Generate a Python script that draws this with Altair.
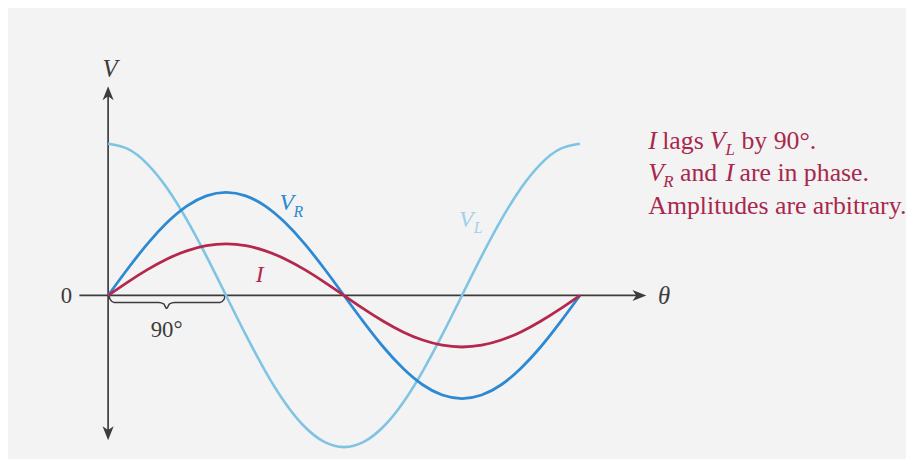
import altair as alt
import pandas as pd

# ---- data (values in arbitrary units, ~pixels above the axis)
theta = [0, 15, 30, 45, 60, 75, 90, 105, 120, 135, 150, 165, 180,
         195, 210, 225, 240, 255, 270, 285, 300, 315, 330, 345, 360]
v_r = [0, 26.9, 52, 73.5, 90.1, 100.5, 104, 100.5, 90.1, 73.5, 52, 26.9, 0,
       -26.9, -52, -73.5, -90.1, -100.5, -104, -100.5, -90.1, -73.5, -52, -26.9, 0]
i_cur = [0, 13.5, 26, 36.8, 45, 50.2, 52, 50.2, 45, 36.8, 26, 13.5, 0,
         -13.5, -26, -36.8, -45, -50.2, -52, -50.2, -45, -36.8, -26, -13.5, 0]
v_l = [153, 147.8, 132.5, 108.2, 76.5, 39.6, 0, -39.6, -76.5, -108.2, -132.5, -147.8, -153,
       -147.8, -132.5, -108.2, -76.5, -39.6, 0, 39.6, 76.5, 108.2, 132.5, 147.8, 153]

brace_x = [0.8, 1.5, 4.5, 38.6, 42.4, 44.6, 46.9, 50.7, 85.5, 88.5, 89.2]
brace_y = [0, -4, -7, -7, -8.5, -13, -8.5, -7, -7, -4, 0]

# ---- scales mapping to the canvas
W, H = 906, 451
PX_PER_DEG = 476 / 360
x0 = 101  # chart px of theta = 0
xs = alt.Scale(domain=[-x0 / PX_PER_DEG, (W - x0) / PX_PER_DEG], nice=False, zero=False)
ys = alt.Scale(domain=[-163, 288], nice=False, zero=False)

C_VL = "#7fc4e2"
C_VR = "#2d8ad2"
C_I = "#b4284e"
C_TXT = "#a8284c"
C_AX = "#3c3c3c"
FONT = "Liberation Serif"


def curve(vals, color, width):
    df = pd.DataFrame({"theta": theta, "v": vals})
    return alt.Chart(df).mark_line(color=color, strokeWidth=width, interpolate="natural").encode(
        x=alt.X("theta:Q", scale=xs, axis=None),
        y=alt.Y("v:Q", scale=ys, axis=None),
    )


def txt(text, px, py, size=25, italic=False, color=C_AX, align="left"):
    return alt.Chart(pd.DataFrame({"t": [text]})).mark_text(
        text=text, font=FONT, fontSize=size, fontStyle="italic" if italic else "normal",
        color=color, align=align, baseline="alphabetic",
    ).encode(x=alt.value(px - 8), y=alt.value(py - 8))


# axes
ax_df = pd.DataFrame({"x": [-21.9], "x2": [407], "y": [0], "y2": [0]})
x_axis = alt.Chart(ax_df).mark_rule(color=C_AX, strokeWidth=1.7).encode(
    x=alt.X("x:Q", scale=xs, axis=None), x2="x2:Q", y=alt.Y("y:Q", scale=ys, axis=None))
ay_df = pd.DataFrame({"x": [0], "y": [-140], "y2": [205]})
y_axis = alt.Chart(ay_df).mark_rule(color=C_AX, strokeWidth=1.7).encode(
    x=alt.X("x:Q", scale=xs, axis=None), y=alt.Y("y:Q", scale=ys, axis=None), y2="y2:Q")

ARROW = "M0,-1L0.8,1L0,0.45L-0.8,1Z"
arr_df = pd.DataFrame({"x": [0, 0, 405.4], "y": [204, -139, 0], "a": [0, 180, 90]})
arrows = alt.Chart(arr_df).mark_point(shape=ARROW, filled=True, size=196, color=C_AX, opacity=1).encode(
    x=alt.X("x:Q", scale=xs, axis=None), y=alt.Y("y:Q", scale=ys, axis=None),
    angle=alt.Angle("a:Q", scale=None))

brace = alt.Chart(pd.DataFrame({"x": brace_x, "y": brace_y, "o": list(range(len(brace_x)))})).mark_line(
    color=C_AX, strokeWidth=1.5, interpolate="monotone").encode(
    x=alt.X("x:Q", scale=xs, axis=None), y=alt.Y("y:Q", scale=ys, axis=None), order="o:Q")

layers = [
    x_axis, y_axis, arrows, brace,
    curve(v_l, C_VL, 2.6), curve(v_r, C_VR, 2.8), curve(i_cur, C_I, 2.8),
    txt("V", 111, 76, 25, True, align="center"),
    txt("0", 67, 304, 23, align="center"),
    txt("θ", 670, 305, 25, True, align="center"),
    txt("90°", 168, 338, 23, align="center"),
    txt("V", 282, 210, 24, True, C_VR), txt("R", 296, 217, 16, True, C_VR),
    txt("V", 463, 227, 24, True, "#9fd2ea"), txt("L", 478, 233, 16, True, "#9fd2ea"),
    txt("I", 258, 282, 24, True, C_I),
    # annotation
    txt("I", 654, 148, 26, True, C_TXT), txt("lags", 668, 148, 26, False, C_TXT),
    txt("V", 716, 148, 26, True, C_TXT), txt("L", 732, 154, 17, True, C_TXT),
    txt("by 90°.", 748, 148, 26, False, C_TXT),
    txt("V", 654, 181, 26, True, C_TXT), txt("R", 669, 187, 17, True, C_TXT),
    txt("and", 686, 181, 26, False, C_TXT), txt("I", 732, 181, 26, True, C_TXT),
    txt("are in phase.", 746, 181, 26, False, C_TXT),
    txt("Amplitudes are arbitrary.", 654, 214, 26, False, C_TXT),
]

chart = alt.layer(*layers).properties(
    width=W, height=H, background="#f4f3f4", padding=0, autosize=alt.AutoSizeParams(type="none"),
).configure_view(stroke=None)

chart.save("out.html", embed_options={"renderer": "svg", "actions": False})
